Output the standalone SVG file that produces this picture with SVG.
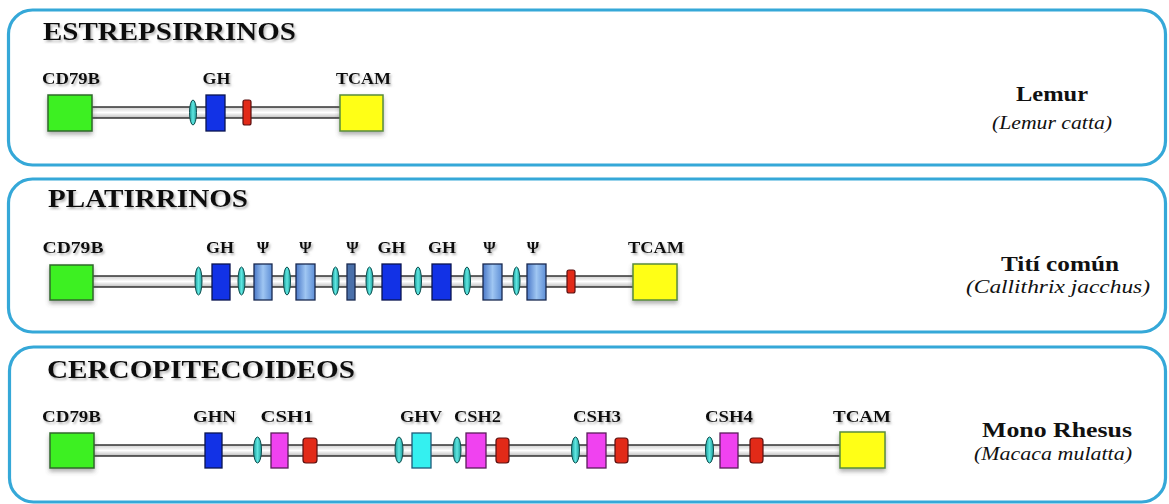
<svg xmlns="http://www.w3.org/2000/svg" width="1169" height="504" viewBox="0 0 1169 504">
<defs>
<filter id="sh" x="-20%" y="-20%" width="150%" height="160%"><feDropShadow dx="1.5" dy="2" stdDeviation="1.2" flood-color="#777" flood-opacity="0.55"/></filter>
<filter id="bs" x="-20%" y="-20%" width="150%" height="160%"><feDropShadow dx="0" dy="3" stdDeviation="2" flood-color="#555" flood-opacity="0.45"/></filter>
<linearGradient id="tube" x1="0" y1="0" x2="0" y2="1"><stop offset="0" stop-color="#cfcfcf"/><stop offset="0.5" stop-color="#ffffff"/><stop offset="1" stop-color="#bdbdbd"/></linearGradient>
<linearGradient id="psi" x1="0" y1="0" x2="1" y2="0"><stop offset="0" stop-color="#4a78c8"/><stop offset="0.5" stop-color="#9fc6f2"/><stop offset="1" stop-color="#5d8ed6"/></linearGradient>
<linearGradient id="ell" x1="0" y1="0" x2="1" y2="0"><stop offset="0" stop-color="#1e9e9e"/><stop offset="0.5" stop-color="#5ee6e0"/><stop offset="1" stop-color="#1e9e9e"/></linearGradient>
<style>
.panel{fill:#fff;stroke:#35a8d8;stroke-width:3.2}
.title{font-family:"Liberation Serif",serif;font-weight:bold;font-size:26px;fill:#111}
.lab{font-family:"Liberation Serif",serif;font-weight:bold;font-size:16px;fill:#111;text-anchor:middle}
.sp{font-family:"Liberation Serif",serif;font-weight:bold;font-size:22px;fill:#111;text-anchor:middle}
.sci{font-family:"Liberation Serif",serif;font-style:italic;font-size:19px;fill:#111;text-anchor:middle}
.tb{fill:url(#tube)}
.tl{stroke:#333;stroke-width:1.6}
.green{fill:#3cf024;stroke:#2f6a2a;stroke-width:1.5}
.yellow{fill:#ffff14;stroke:#5a8c3c;stroke-width:1.5}
.blue{fill:#1232e6;stroke:#0a1550;stroke-width:1.3}
.psi{fill:url(#psi);stroke:#1a2a50;stroke-width:1.3}
.psin{fill:#4a70aa;stroke:#1a2a50;stroke-width:1.3}
.ell{fill:url(#ell);stroke:#0e4e4e;stroke-width:1}
.red{fill:#e22a18;stroke:#5a1010;stroke-width:1.2}
.pink{fill:#f042f0;stroke:#5a1d5a;stroke-width:1.3}
.cyan{fill:#34f0f0;stroke:#1e5a78;stroke-width:1.3}
</style>
</defs>

<g id="panels">
<rect class="panel" x="8.5" y="10" width="1157" height="155" rx="24"/>
<rect class="panel" x="8.5" y="179" width="1157" height="153" rx="24"/>
<rect class="panel" x="9.5" y="347" width="1156" height="155" rx="24"/>
</g>

<g id="titles">
<text class="title" x="43" y="40" textLength="253" lengthAdjust="spacingAndGlyphs" filter="url(#sh)">ESTREPSIRRINOS</text>
<text class="title" x="48" y="207" textLength="200" lengthAdjust="spacingAndGlyphs" filter="url(#sh)">PLATIRRINOS</text>
<text class="title" x="47" y="378" textLength="308" lengthAdjust="spacingAndGlyphs" filter="url(#sh)">CERCOPITECOIDEOS</text>
</g>

<g id="connectors">
<rect class="tb" x="92" y="107" width="248" height="11"/>
<line class="tl" x1="92" y1="107" x2="340" y2="107"/><line class="tl" x1="92" y1="118" x2="340" y2="118"/>
<rect class="tb" x="93" y="276" width="540" height="11"/>
<line class="tl" x1="93" y1="276" x2="633" y2="276"/><line class="tl" x1="93" y1="287" x2="633" y2="287"/>
<rect class="tb" x="94" y="445" width="746" height="11"/>
<line class="tl" x1="94" y1="445" x2="840" y2="445"/><line class="tl" x1="94" y1="456" x2="840" y2="456"/>
</g>

<!-- Panel 1 -->
<g id="p1-cd79b"><rect class="green" x="48" y="95" width="44" height="36" filter="url(#bs)"/><text class="lab" x="71" y="84" textLength="58" lengthAdjust="spacingAndGlyphs" filter="url(#sh)">CD79B</text></g>
<g id="p1-e1"><ellipse class="ell" cx="193" cy="112.5" rx="3.5" ry="12.5"/></g>
<g id="p1-gh"><rect class="blue" x="206" y="95" width="19" height="36"/><text class="lab" x="216.5" y="84" textLength="28" lengthAdjust="spacingAndGlyphs" filter="url(#sh)">GH</text></g>
<g id="p1-r1"><rect class="red" x="243" y="100" width="8" height="25" rx="2"/></g>
<g id="p1-tcam"><rect class="yellow" x="340" y="95" width="43" height="36" filter="url(#bs)"/><text class="lab" x="363.5" y="84" textLength="55" lengthAdjust="spacingAndGlyphs" filter="url(#sh)">TCAM</text></g>
<g id="p1-species"><text class="sp" x="1052" y="101" textLength="72" lengthAdjust="spacingAndGlyphs">Lemur</text><text class="sci" x="1052" y="129" textLength="120" lengthAdjust="spacingAndGlyphs">(Lemur catta)</text></g>

<!-- Panel 2 -->
<g id="p2-cd79b"><rect class="green" x="50" y="265" width="43" height="35" filter="url(#bs)"/><text class="lab" x="73" y="253" textLength="61" lengthAdjust="spacingAndGlyphs" filter="url(#sh)">CD79B</text></g>
<g id="p2-e1"><ellipse class="ell" cx="198.5" cy="281" rx="3.5" ry="14"/></g>
<g id="p2-gh1"><rect class="blue" x="212" y="264" width="18" height="36"/><text class="lab" x="220" y="253" textLength="28" lengthAdjust="spacingAndGlyphs" filter="url(#sh)">GH</text></g>
<g id="p2-e2"><ellipse class="ell" cx="241.5" cy="281" rx="3.5" ry="14"/></g>
<g id="p2-psi1"><rect class="psi" x="254" y="264" width="18" height="36"/><text class="lab" x="263" y="253" filter="url(#sh)">Ψ</text></g>
<g id="p2-e3"><ellipse class="ell" cx="287" cy="281" rx="3.5" ry="14"/></g>
<g id="p2-psi2"><rect class="psi" x="296" y="264" width="19" height="36"/><text class="lab" x="305.5" y="253" filter="url(#sh)">Ψ</text></g>
<g id="p2-e4"><ellipse class="ell" cx="335.5" cy="281" rx="3.5" ry="14"/></g>
<g id="p2-psi3"><rect class="psin" x="347" y="264" width="8" height="36"/><text class="lab" x="352.5" y="253" filter="url(#sh)">Ψ</text></g>
<g id="p2-e5"><ellipse class="ell" cx="369.5" cy="281" rx="3.5" ry="14"/></g>
<g id="p2-gh2"><rect class="blue" x="382" y="264" width="19" height="36"/><text class="lab" x="391.5" y="253" textLength="28" lengthAdjust="spacingAndGlyphs" filter="url(#sh)">GH</text></g>
<g id="p2-e6"><ellipse class="ell" cx="418" cy="281" rx="3.5" ry="14"/></g>
<g id="p2-gh3"><rect class="blue" x="432" y="264" width="19" height="36"/><text class="lab" x="442" y="253" textLength="28" lengthAdjust="spacingAndGlyphs" filter="url(#sh)">GH</text></g>
<g id="p2-e7"><ellipse class="ell" cx="467" cy="281" rx="3.5" ry="14"/></g>
<g id="p2-psi4"><rect class="psi" x="483" y="264" width="19" height="36"/><text class="lab" x="489.5" y="253" filter="url(#sh)">Ψ</text></g>
<g id="p2-e8"><ellipse class="ell" cx="516.5" cy="281" rx="3.5" ry="14"/></g>
<g id="p2-psi5"><rect class="psi" x="527" y="264" width="19" height="36"/><text class="lab" x="533" y="253" filter="url(#sh)">Ψ</text></g>
<g id="p2-r1"><rect class="red" x="567" y="270" width="8" height="23" rx="2"/></g>
<g id="p2-tcam"><rect class="yellow" x="633" y="264" width="44" height="36" filter="url(#bs)"/><text class="lab" x="656" y="253" textLength="56" lengthAdjust="spacingAndGlyphs" filter="url(#sh)">TCAM</text></g>
<g id="p2-species"><text class="sp" x="1060" y="271" textLength="118" lengthAdjust="spacingAndGlyphs">Tití común</text><text class="sci" x="1058" y="293" textLength="184" lengthAdjust="spacingAndGlyphs">(Callithrix jacchus)</text></g>

<!-- Panel 3 -->
<g id="p3-cd79b"><rect class="green" x="50" y="433" width="44" height="35" filter="url(#bs)"/><text class="lab" x="71.5" y="422" textLength="59" lengthAdjust="spacingAndGlyphs" filter="url(#sh)">CD79B</text></g>
<g id="p3-ghn"><rect class="blue" x="205" y="433" width="17" height="35"/><text class="lab" x="214.5" y="422" textLength="43" lengthAdjust="spacingAndGlyphs" filter="url(#sh)">GHN</text></g>
<g id="p3-e1"><ellipse class="ell" cx="257.5" cy="450" rx="4" ry="13"/></g>
<g id="p3-csh1"><rect class="pink" x="271" y="433" width="17" height="35"/><text class="lab" x="287" y="422" textLength="53" lengthAdjust="spacingAndGlyphs" filter="url(#sh)">CSH1</text></g>
<g id="p3-r1"><rect class="red" x="303" y="438" width="14" height="25" rx="3"/></g>
<g id="p3-e2"><ellipse class="ell" cx="399" cy="450" rx="4" ry="13"/></g>
<g id="p3-ghv"><rect class="cyan" x="412" y="433" width="19" height="35"/><text class="lab" x="421" y="422" textLength="42" lengthAdjust="spacingAndGlyphs" filter="url(#sh)">GHV</text></g>
<g id="p3-e3"><ellipse class="ell" cx="457" cy="450" rx="4" ry="13"/></g>
<g id="p3-csh2"><rect class="pink" x="466" y="433" width="20" height="35"/><text class="lab" x="477.5" y="422" textLength="47" lengthAdjust="spacingAndGlyphs" filter="url(#sh)">CSH2</text></g>
<g id="p3-r2"><rect class="red" x="496" y="438" width="13" height="25" rx="3"/></g>
<g id="p3-e4"><ellipse class="ell" cx="575.5" cy="450" rx="4" ry="13"/></g>
<g id="p3-csh3"><rect class="pink" x="587" y="433" width="19" height="35"/><text class="lab" x="597" y="422" textLength="48" lengthAdjust="spacingAndGlyphs" filter="url(#sh)">CSH3</text></g>
<g id="p3-r3"><rect class="red" x="615" y="438" width="13" height="25" rx="3"/></g>
<g id="p3-e5"><ellipse class="ell" cx="709.5" cy="450" rx="4" ry="13"/></g>
<g id="p3-csh4"><rect class="pink" x="720" y="433" width="18" height="35"/><text class="lab" x="729" y="422" textLength="48" lengthAdjust="spacingAndGlyphs" filter="url(#sh)">CSH4</text></g>
<g id="p3-r4"><rect class="red" x="750" y="438" width="13" height="25" rx="3"/></g>
<g id="p3-tcam"><rect class="yellow" x="840" y="432" width="45" height="36" filter="url(#bs)"/><text class="lab" x="862" y="422" textLength="58" lengthAdjust="spacingAndGlyphs" filter="url(#sh)">TCAM</text></g>
<g id="p3-species"><text class="sp" x="1057" y="437" textLength="150" lengthAdjust="spacingAndGlyphs">Mono Rhesus</text><text class="sci" x="1053" y="460" textLength="158" lengthAdjust="spacingAndGlyphs">(Macaca mulatta)</text></g>
</svg>
